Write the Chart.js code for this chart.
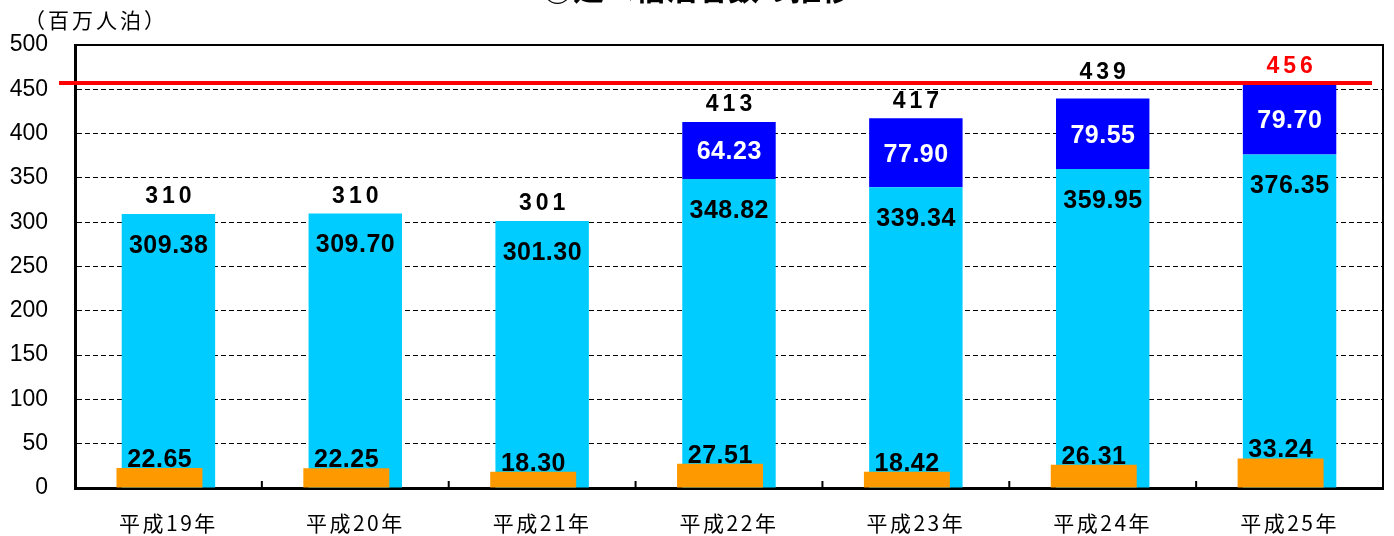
<!DOCTYPE html>
<html>
<head>
<meta charset="utf-8">
<script src="https://cdn.jsdelivr.net/npm/chart.js@4.4.1/dist/chart.umd.min.js"></script>
<style>
  html, body { margin:0; padding:0; background:#fff; }
  #wrap { width:1394px; height:536px; position:relative; }
</style>
</head>
<body>
<div id="wrap"><canvas id="c" width="1394" height="536"></canvas></div>
<script>
// ---- data ----
const TITLE = '③延べ宿泊者数の推移';
const UNIT = '（百万人泊）';
const CATEGORIES = ['平成19年','平成20年','平成21年','平成22年','平成23年','平成24年','平成25年'];
const BASE_VALUES = [309.38, 309.70, 301.30, 348.82, 339.34, 359.95, 376.35];
const ADDED_VALUES = [null, null, null, 64.23, 77.90, 79.55, 79.70];
const ORANGE_VALUES = [22.65, 22.25, 18.30, 27.51, 18.42, 26.31, 33.24];
const TOTALS = [310, 310, 301, 413, 417, 439, 456];
const TARGET = 457;
const Y_MIN = 0, Y_MAX = 500, Y_STEP = 50;

const ORANGE_SHIFT = -0.048;

const NUM_FONT = 'bold 25px "Liberation Sans", Arial, sans-serif';
const TOT_FONT = 'bold 23px "Liberation Sans", Arial, sans-serif';
const CJK = '"Noto Sans CJK JP", "Noto Sans", sans-serif';

const decorPlugin = {
  id: 'decor',
  afterDatasetsDraw(chart) {
    const ctx = chart.ctx;
    const mBase = chart.getDatasetMeta(0), mAdd = chart.getDatasetMeta(1), mOr = chart.getDatasetMeta(2);
    const targetY = chart.scales.y.getPixelForValue(TARGET);
    ctx.save();
    ctx.textAlign = 'center';
    ctx.textBaseline = 'middle';
    const txt = (s, x, y, font, color, sp) => {
      ctx.font = font; ctx.fillStyle = color; ctx.letterSpacing = sp + 'px';
      ctx.fillText(s, x + sp / 2, y);
    };
    mBase.data.forEach((bar, i) => {
      txt(BASE_VALUES[i].toFixed(2), bar.x, bar.y + 32, NUM_FONT, '#000', 0.5);
    });
    mAdd.data.forEach((bar, i) => {
      if (ADDED_VALUES[i] != null) {
        txt(ADDED_VALUES[i].toFixed(2), bar.x, (bar.y + bar.base) / 2 + 2, NUM_FONT, '#fff', 0.5);
      }
    });
    mOr.data.forEach((bar, i) => {
      txt(ORANGE_VALUES[i].toFixed(2), bar.x, bar.y - 8, NUM_FONT, '#000', 0.5);
    });
    mBase.data.forEach((bar, i) => {
      const top = ADDED_VALUES[i] != null ? mAdd.data[i].y : bar.y;
      const color = i === TOTALS.length - 1 ? '#ff0000' : '#000';
      let ly = top - 17;
      if (Math.abs(ly - targetY) < 12) ly = targetY - 10; // keep clear of the target line
      txt(String(TOTALS[i]), bar.x, ly, TOT_FONT, color, 4);
    });
    ctx.restore();
    // letter spacing for the x tick labels, which are drawn after datasets (z=1)
    ctx.letterSpacing = '2.5px';
  },
  afterDraw(chart) {
    const ctx = chart.ctx;
    ctx.letterSpacing = '0px';
    const a = chart.chartArea;
    const y = chart.scales.y, x = chart.scales.x;
    ctx.save();
    // top & right frame
    ctx.strokeStyle = '#000';
    ctx.lineWidth = 2;
    ctx.beginPath();
    ctx.moveTo(a.left, a.top); ctx.lineTo(a.right, a.top); ctx.lineTo(a.right, a.bottom);
    ctx.stroke();
    // inner tick marks on x axis at category boundaries
    ctx.lineWidth = 2;
    for (let i = 1; i < CATEGORIES.length; i++) {
      const px = (x.getPixelForValue(i - 1) + x.getPixelForValue(i)) / 2;
      ctx.beginPath(); ctx.moveTo(px, a.bottom); ctx.lineTo(px, a.bottom - 7); ctx.stroke();
    }
    // target line
    const ty = y.getPixelForValue(TARGET);
    ctx.strokeStyle = '#ff0000';
    ctx.lineWidth = 4;
    ctx.beginPath(); ctx.moveTo(a.left - 16, ty); ctx.lineTo(a.right - 11, ty); ctx.stroke();
    // unit label
    ctx.fillStyle = '#000';
    ctx.textAlign = 'center';
    ctx.textBaseline = 'middle';
    ctx.font = '21px ' + CJK;
    ctx.letterSpacing = '3px';
    ctx.fillText(UNIT, 96, 20);
    ctx.letterSpacing = '0px';
    // title (cut at the top)
    ctx.font = 'bold 31px ' + CJK;
    ctx.textBaseline = 'alphabetic';
    ctx.fillText(TITLE, 697, 0);
    ctx.restore();
  }
};

new Chart(document.getElementById('c'), {
  type: 'bar',
  data: {
    labels: CATEGORIES,
    datasets: [
      {
        label: '延べ宿泊者数',
        data: BASE_VALUES,
        backgroundColor: '#00ccff',
        xAxisID: 'x', stack: 'main', order: 2, grouped: false,
        categoryPercentage: 1.0, barPercentage: 0.5
      },
      {
        label: '追加分',
        data: ADDED_VALUES,
        backgroundColor: '#0000ff',
        xAxisID: 'x', stack: 'main', order: 2, grouped: false,
        categoryPercentage: 1.0, barPercentage: 0.5
      },
      {
        label: '外国人延べ宿泊者数',
        data: ORANGE_VALUES.map((v, i) => ({ x: i + ORANGE_SHIFT, y: v })),
        backgroundColor: '#ff9900',
        xAxisID: 'xo', stack: 'orange', order: 1, grouped: false,
        categoryPercentage: 1.0, barPercentage: 0.46
      }
    ]
  },
  options: {
    responsive: false,
    animation: false,
    devicePixelRatio: 1,
    layout: { padding: { top: 45, right: 11, left: 0, bottom: 0 } },
    plugins: { legend: { display: false }, tooltip: { enabled: false }, title: { display: false } },
    scales: {
      x: {
        type: 'category',
        stacked: true,
        offset: true,
        grid: { display: false, drawTicks: false },
        border: { display: true, color: '#000', width: 3 },
        ticks: { color: '#000', font: { family: CJK, size: 21 }, padding: 22, z: 1, maxRotation: 0 },
        afterFit(s) { s.height = 48; }
      },
      xo: {
        type: 'linear',
        display: false,
        min: -0.5, max: CATEGORIES.length - 0.5,
        offset: false,
        afterBuildTicks(s) { s.ticks = CATEGORIES.map((_, i) => ({ value: i })); }
      },
      y: {
        stacked: true,
        min: Y_MIN, max: Y_MAX,
        ticks: { stepSize: Y_STEP, color: '#000', font: { family: '"Liberation Sans", Arial, sans-serif', size: 23 }, padding: 27 },
        grid: { color: '#000', lineWidth: 1, drawTicks: false },
        border: { display: true, color: '#000', width: 3, dash: [5, 3] },
        afterFit(s) { s.width = 75; }
      }
    }
  },
  plugins: [decorPlugin]
});
</script>
</body>
</html>
